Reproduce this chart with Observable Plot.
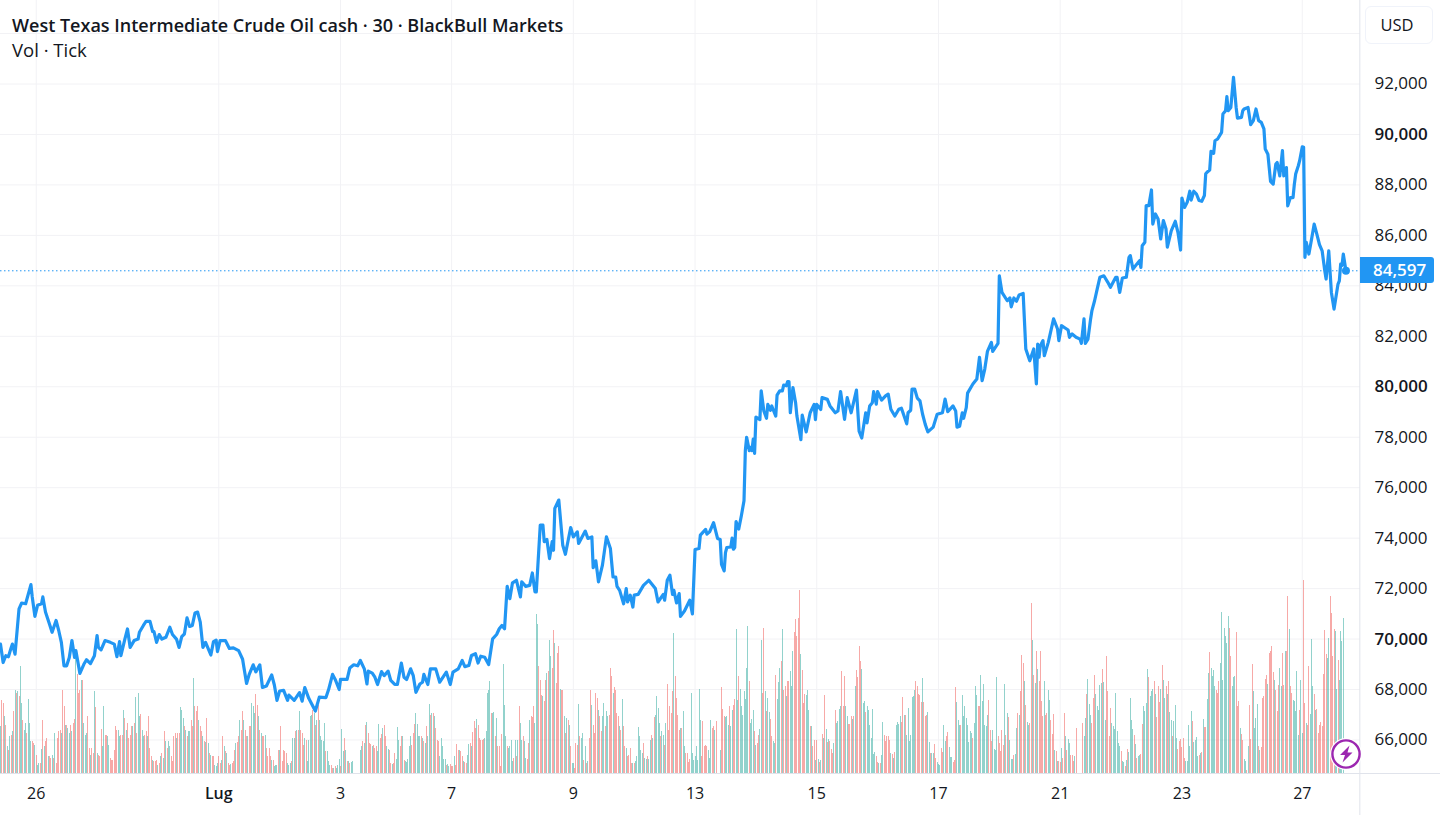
<!DOCTYPE html>
<html><head><meta charset="utf-8">
<script src="https://cdn.jsdelivr.net/npm/d3@7"></script>
<script src="https://cdn.jsdelivr.net/npm/@observablehq/plot@0.6"></script>
<style>
html,body{margin:0;padding:0;background:#fff;overflow:hidden}
#wrap{position:relative;width:1440px;height:815px;font-family:"Open Sans","Noto Sans",sans-serif;color:#131722}
#wrap svg{display:block}
.ov{position:absolute;white-space:nowrap}
#title{left:12px;top:13px;font-size:18px;font-weight:600;line-height:24px}
#sub{left:12px;top:38px;font-size:18.5px;line-height:24px}
#usd{left:1365px;top:6px;width:66px;height:36px;border:1px solid #f0f3fa;border-radius:6px;background:#fff;font-size:16.5px;line-height:36px;text-align:center;text-indent:-4px}
#tag{left:1360px;top:257px;width:61px;height:26px;padding-left:13px;background:#2196f3;color:#fff;font-size:17px;font-weight:600;line-height:26px;border-radius:0 3px 3px 0}
#bolt{left:1330px;top:738px;width:32px;height:32px}
</style></head><body>
<div id="wrap">
<div class="ov" id="title">West Texas Intermediate Crude Oil cash · 30 · BlackBull Markets</div>
<div class="ov" id="sub">Vol · Tick</div>
<div class="ov" id="usd">USD</div>
<div class="ov" id="tag">84,597</div>
<svg class="ov" id="bolt" viewBox="0 0 32 32"><circle cx="16" cy="16" r="16" fill="#fff"/><circle cx="16" cy="16" r="13.6" fill="#fff" stroke="#9c27b0" stroke-width="2.4"/><path d="M19.5 7.5 L10 17 L15 17 L12.5 24.5 L22.5 14.5 L17.5 14.5 Z" fill="#9c27b0"/></svg>
</div>
<script>
// Axis labels
const xTickIdx=[27,257,341,433,525,617,709,801,893,984];
const xTickLab=["26","3","7","9","13","15","17","21","23","27"];
const xMajorIdx=[165];
const xMajorLab=["Lug"];
const yTicks=[66000,68000,72000,74000,76000,78000,82000,84000,86000,88000,92000];
const yMajor=[70000,80000,90000];
const yGrid=[66000,68000,70000,72000,74000,76000,78000,80000,82000,84000,86000,88000,90000,92000,94000];
const lastPrice=84597;
// Price vertices: [bar index, price in hundreds]
const priceA=[[0,698],[2,690.7],[4,693.4],[6,693],[8,696.5],[9,698],[11,694],[13,706],[14,712],[16,714.3],[19,714],[23,721.6],[24,716.7],[26,709],[28,713.4],[31,714],[32,716.7],[34,710.7],[37,706],[39,702.7],[42,707.4],[44,703.4],[46,698.7],[48,689.4],[50,689.4],[52,692.7],[54,699.4],[56,692.7],[57,695.4],[60,686.4],[63,690],[65,691.8],[68,690.3],[71,693.4],[73,701.4],[74,696.7],[76,695.7],[79,699.4],[83,698.7],[86,698],[88,693],[90,699],[91,693.4],[94,700],[96,704],[98,696.7],[101,699.4],[104,700],[105,702.7],[108,705.4],[110,707],[113,707],[115,703],[116,703],[118,698.7],[120,701.8],[122,700],[125,700.7],[128,704.7],[130,701.8],[133,700],[135,696.7],[137,701],[139,702],[141,708.4],[143,705],[145,705.4],[147,710.3],[149,710.7],[151,706.7],[153,696.7],[155,698.7],[159,693.7],[161,699],[163,699.6],[164,695],[166,699.4],[170,699.4],[173,696.3],[176,696.5],[180,695.4],[183,692],[184,688.7],[186,682.4],[188,686],[191,689.8],[193,687],[196,689.8],[198,680.8],[201,681.4],[205,685.8],[207,681.8],[209,675.7],[211,679.4],[214,679.7],[217,675.7],[218,677.8],[222,675.7],[226,678.8],[228,675.4],[230,680.8],[233,676.5],[238,671.5],[241,677],[246,676.8],[248,680],[251,686],[253,684],[256,680],[257,684],[262,684],[264,688.5],[267,689.8],[270,689.4],[272,691.5]];
const priceB=[[275,688.2],[277,682.2],[278,687.3],[281,686.5],[283,684.9],[285,682],[288,687.1],[290,685.5],[293,687.3],[295,683.6],[298,682],[300,682],[303,690.5],[305,684.9],[307,684],[310,688.2],[312,685.5],[314,678.9],[317,682.2],[319,682.9],[320,686],[323,682],[325,688.2],[329,688.2],[332,682.9],[337,686.9],[340,682],[342,686.9],[346,688.2],[349,691.5],[351,689.1],[354,689.5],[356,693.5],[359,694.2],[361,690.5],[363,693.2],[366,692.8],[369,689.9],[372,700.1],[375,701.8],[377,704.1],[379,705.4],[381,704.1],[383,720.9],[385,716],[387,722.3],[390,723.3],[393,716.7],[394,722.7],[397,720.9],[400,721.3],[402,726.2],[404,718.7],[405,718.7],[408,745.2],[410,745.2],[411,738.6],[413,739.5],[415,731.9],[417,738.6],[418,735.2],[419,751.8],[422,755.1],[425,737.2],[427,733.6],[431,744.2],[433,740.5],[436,742.5],[437,737.9],[439,739.9],[442,742.8],[444,739.9],[447,740.5],[448,728.3],[450,731],[452,722.7],[455,729.3],[458,740.5],[461,735.9],[463,724.6],[465,724.6],[466,720.9],[468,719.3],[471,714],[473,720],[474,714.7],[476,717.4],[478,712.7],[479,717.4],[482,717.7],[486,721.3],[490,723.3],[495,720],[497,714.7],[501,717.7],[502,715.4],[504,723.3],[506,725.3],[508,717.7],[509,719.3],[511,714.3],[513,718],[514,709],[517,711.1],[521,715.4],[523,710],[525,735.5],[528,735.9],[529,741.2],[533,743.5],[534,741.6],[536,742.5],[539,746.1],[542,739.9],[544,739.5]];
const priceC=[[545,729.6],[547,727],[548,734.3],[549,736.3],[552,736.5],[553,740],[554,735.6],[555,736.3],[556,746.6],[558,743.6],[560,748.9],[562,754.8],[563,774.7],[564,780],[566,774.7],[567,776],[568,774.7],[569,779.3],[570,773.6],[571,788],[574,787],[575,798.4],[577,790.4],[579,787.5],[580,793],[582,790.7],[583,792.4],[584,791],[586,788.4],[587,796.7],[589,798.4],[591,798.4],[592,800.7],[594,800.4],[595,802.1],[596,802.1],[597,789.7],[599,799.7],[601,793.7],[602,788.4],[605,779],[606,788.8],[609,782.1],[612,789.7],[615,793],[616,787],[617,793],[620,791],[621,795.7],[625,795],[627,792.4],[631,789.7],[633,790.4],[635,798.1],[638,787.1],[640,795.7],[643,789.7],[647,798.7],[649,782.4],[651,779.7],[654,789.7],[655,785.7],[657,792.4],[659,793.7],[660,798.1],[662,793.1],[663,798.1],[666,794.7],[669,796.4],[671,797.1],[673,791.1],[676,788.4],[679,791.1],[681,791.5],[683,788.4],[685,785.3],[686,789.7],[688,790.7],[689,799.1],[691,799.1],[693,795.5],[695,794.4],[697,789.1],[699,785.1],[701,782.1],[705,784],[708,789.1],[712,789.7],[714,795.1],[716,790.1],[720,792.4],[722,790.4],[723,784],[725,784.4],[727,789.7],[728,787.5],[730,791.7],[731,797.5],[735,801.1],[738,803.1]];
const priceD=[[740,811.7],[742,802.4],[744,807],[746,814],[749,817.6],[750,814],[754,817.2],[755,844],[757,837.4],[761,834.1],[763,835.2],[764,831.7],[766,835.2],[768,833.9],[770,836.4],[773,837],[775,815],[778,810.3],[781,815],[783,801.1],[784,816.9],[785,811.7],[786,816.3],[788,818.3],[789,812.3],[792,817.6],[796,826.9],[799,822.9],[800,818.3],[802,824.2],[805,823.2],[807,822.5],[808,819.6],[810,820.9],[813,819.6],[816,818.9],[817,817.2],[819,826.9],[820,817.2],[822,818.9],[824,826.9],[825,830.2],[827,834.1],[829,838.8],[831,843.4],[834,844],[837,841.4],[839,839.4],[843,843.4],[844,843.4],[846,837.4],[848,843.1],[851,843.4],[853,851.3],[854,852],[856,846.7],[861,850],[862,847.3],[863,855.9],[865,857.3],[866,871.8],[868,871.8],[870,878],[871,864.5],[873,868.5],[875,866.5],[877,858.6],[879,865.9],[881,862.5],[882,855.3],[885,861.9],[888,865.6],[890,861.2],[892,854.2],[893,874.8],[895,871.1],[897,873.1],[899,877.5],[900,874],[902,877.5],[904,876.4],[906,873.8],[908,873.5],[910,875.8],[911,884.4],[912,885]];
const priceE=[[914,885.9],[915,893.3],[917,892.5],[918,897.5],[920,898.2],[923,900.8],[924,908.1],[926,909.4],[927,915],[928,909.4],[930,910.7],[932,922.6],[934,910.7],[935,906.5],[938,906.8],[939,909.4],[940,910.1],[943,910.7],[945,903.9],[947,905.5],[949,910.1],[951,905.5],[953,904.8],[955,902.2],[956,894.2],[958,892.2],[960,881.4],[962,880.3],[964,888.3],[965,888.9],[967,883.6],[969,893.6],[970,883.6],[972,886.9],[973,871.7],[975,875],[977,875],[978,880.3],[979,884.3],[981,887.6],[982,889.6],[984,895.1],[985,894.9],[986,851.3],[987,857.2],[989,852.6],[991,858.5],[993,864.5],[995,860.5],[997,856.3],[999,853.9],[1001,846],[1002,842.7],[1004,853.9],[1006,837.4],[1008,830.8],[1011,840.7],[1012,842],[1013,848.6],[1014,848],[1015,852.6],[1017,845.97]];
// Tick volume per bar; negative = down bar (red)
const volA=[47,-73,-70,57,-48,27,-23,37,-38,42,-62,83,-80,82,-77,107,70,-53,43,50,-40,74,50,32,-32,-30,28,-18,8,10,-10,24,-53,27,-32,-35,17,-17,-15,18,-15,40,-10,-35,-42,-43,40,-83,-67,48,-48,45,40,-48,42,-50,-54,115,-99,-80,-83,93,-93,50,38,40,-57,-25,18,-25,-20,82,-66,20,-18,-17,-44,27,67,-38,-38,37,28,-15,-13,-13,-23,-47,-43,43,37,-38,-38,63,-55,43,-50,-35,-38,-47,47,-50,76,-40,80,57,-59,43,37,-38,-42,37,-57,-25,-17,13,-12,-12,-13,8,-10,17,-20,15,-42,32,-25,32,27,-17,-12,-37,-40,35,-40,-40,66,63,55,-47,43,-37,42,42,-53,-47,95,-67,-62,-67,53,-47,-42,37,-32,31,-55,30,-20,18,-17,-17,8,7,10,-17,-10,13,-37,27,-22,20,-10,-8,9,-10,-12,-23,30,-31,-37,53,-43,-62,53,-43,-37,37,-47,-47,70,67,60,-79,-68,57,-43,40,-37,-37,38,-25,-17,-25,-17,13,-13,7,8,8,-23,23,-47,-12,-23,-22,-20,10,8,10,-12,35,35,-42,43,-43,62,-43,-40,-28,35,-33,12,33,57,58,-63,60,-48,53,-68,53,37,33,32,50,-22,22,12,8,-8,-5,5,-7,5,8,14,-7,44,22,-35,23,-12,12,-10,11,12];
const volB=[23,27,-32,30,-48,51,-40,-30,-29,27,-28,-25,-27,22,49,-35,-39,45,-48,-37,27,24,-23,-10,9,-10,-20,14,46,33,-27,-37,37,-13,12,11,14,27,37,-28,-40,-49,60,49,37,37,-37,35,-32,30,-47,37,69,-58,60,-60,57,-45,-33,-32,17,35,27,14,14,-8,9,7,-9,-7,-7,17,-8,-29,-23,23,-22,-17,12,-11,-10,18,29,-30,27,-41,-52,-45,54,-48,-35,-33,-33,-34,35,42,80,83,92,-60,60,61,-37,55,-27,-27,-7,-39,109,68,37,-27,25,27,33,12,-15,33,-17,33,-67,50,33,-37,32,15,-14,-30,53,-57,-56,-67,50,159,149,-107,-93,-78,77,-72,-93,100,-102,133,117,-105,-143,130,-90,-120,-127,84,-83,-83,57,-40,55,-53,48,-27,10,10,-5,-30,-28,69,-37,35,40,-13,27,-10,12,-35,-83,68,-48,-40,-80,-75,63,-57,-42,57,70,-47,62,57,-58,-105,-97,80,-86,-83,-60,-57,47,-43,74,-47,-27,25,-17,-18,-25,-10,10,-10,12,17,46,37,23,20,-30,15,14,-17,14,33,-38,35,-56,58,77,65,50,-37,42,38,-28,50,-89,-43,-67,-60,-82,140,-97,-75,-58,-43,45,-45,62,27,-20,-20,-11,-14,80,20,13,17,27,13,84,53,-17,-52,-27,-28,-27,23,15,53,-45,-47,43,-52];
const volC=[23,-86,-64,-57,56,57,48,-67,47,63,-68,-74,144,73,-97,84,67,58,82,74,105,147,-92,50,54,63,-42,28,-30,-38,44,133,-80,-145,82,-62,75,61,-54,-37,32,30,-98,74,91,105,-112,144,-83,-87,77,-92,-92,102,87,122,-141,-154,-137,-155,-183,119,-103,-70,-79,78,83,63,-47,47,-27,-33,13,-33,14,-11,13,-39,35,-78,44,-31,34,-32,-24,-20,30,-63,50,52,64,67,-102,-67,-97,67,57,-49,-49,-57,54,-57,87,-103,-96,-127,-112,104,70,72,-61,67,63,48,35,64,19,21,-17,-11,10,-10,18,51,-38,-32,-37,-37,-33,20,-19,15,-21,48,51,49,57,-51,-76,58,-58,38,65,32,38,76,77,83,-92,-87,-79,-78,-71,95,-71,-57,-58,61,31,-20,20,20,-29,-15,11,9,8,-25,-21,48,32,-37,-41,26,16,16,-11,-13,-86,71,53,48,-48,78,57,67,55,48,31,42,40,-35,50,87,78,-67,-67,98,72,89,48,47,58,-73,-43,-32,43,24,23,96,-37,-30,-22,-43,-28,89,-38,60,-56,33,14,14,-18,19,45,-60,58,-82,-118,-110,92,-68,51,48,-50,-170,133,-98,90,-122,104,-92,-122,-72,-57,92,-58,-60,83,73,-53,-39,-59,23,-22,12,-12,-11,25,-15,-60,37,-23,34,30,-18,-18,-12,17,-45];
const volD=[-50,37,55,-79,94,69,58,-50,-75,-98,79,67,63,88,90,-104,91,53,-117,-82,-37,-65,50,47,44,80,42,30,27,-22,12,11,-7,13,-24,21,75,53,44,-38,29,-15,17,18,-19,-49,67,62,70,104,-96,77,82,84,-92,79,-56,-87,-71,84,-108,93,75,-87,79,-92,61,53,-37,52,68,35,-24,-32,-34,-26,-35,-15,12,12,48,27,62,-52,31,33,36,17,-18,20,-21,54,-46,-46,74,100,-121,105,97,103,87,-83,-80,-92,110,161,93,145,137,130,157,-145,-117,87,96,97,-141,-67,-72,45,-39,-33,14,12,-3,27,-68,-34,-109,82,45,55,69,-27,23,-26,-75,-77,-94,-98,89,-120,-122,-127,-101,93,-83,-62,-88,105,87,-120,-88,122,-122,-177,144,-87,-80,73,72,62,102,38,-63,93,40,-193,-70,50,-48,-107,59,134,87,-79,63,-64,-40,-48,-51,-47,-99,-143,-119,115,135,-177,-160,-117,-144,142,84,-113,93,142,132,155];

const price=[...priceA,...priceB,...priceC,...priceD,...priceE].map(([i,p])=>({i,price:p*100}));
const volStarts=[[volA,0],[volB,272],[volC,544],[volD,1016-volD.length]];
const bars=volStarts.flatMap(([arr,s])=>arr.map((v,k)=>({i:s+k,v:Math.abs(v),up:v>0})));

const xMax=1028, yLow=64672, yHigh=95310, yBelow=63000, volToPrice=39.63;
const grid="#f2f2f5", border="#e0e3eb", ink="#131722", blue="#2196f3";
const fmt=d3.format(",d");

const chart=Plot.plot({
  width:1440,height:815,marginTop:0,marginRight:80,marginBottom:42,marginLeft:0,
  style:{background:"#fff",fontFamily:'"Open Sans","Noto Sans",sans-serif',color:ink,overflow:"visible"},
  x:{type:"linear",domain:[0,xMax],range:[0,1360]},
  y:{type:"linear",domain:[yLow,yHigh],range:[773,0]},
  marks:[
    Plot.ruleY(yGrid,{stroke:grid,strokeWidth:1}),
    Plot.ruleX([...xTickIdx,...xMajorIdx],{stroke:grid,strokeWidth:1}),
    Plot.ruleX(bars,{x:"i",y1:yLow,y2:d=>yLow+d.v*volToPrice,stroke:d=>d.up?"#26a69a":"#ef5350",strokeOpacity:0.5,strokeWidth:1,shapeRendering:"crispEdges"}),
    Plot.ruleY([lastPrice],{stroke:blue,strokeWidth:1,strokeDasharray:"1.5 2.5"}),
    Plot.line(price,{x:"i",y:"price",stroke:blue,strokeWidth:3.2,strokeLinejoin:"round",strokeLinecap:"round"}),
    Plot.dot(price.slice(-1),{x:"i",y:"price",r:4,fill:blue}),
    Plot.ruleX([xMax-0.5],{y1:yLow,y2:yHigh,stroke:border}),
    Plot.ruleX([xMax-0.5],{y1:yBelow,y2:yLow,stroke:border}),
    Plot.ruleY([yLow],{x1:0,x2:xMax*1440/1360,stroke:border}),
    Plot.axisY({anchor:"right",ticks:yTicks,tickFormat:fmt,tickSize:0,tickPadding:14,fontSize:17,label:null}),
    Plot.axisY({anchor:"right",ticks:yMajor,tickFormat:fmt,tickSize:0,tickPadding:14,fontSize:17,fontWeight:600,label:null}),
    Plot.axisX({ticks:xTickIdx,tickFormat:d=>xTickLab[xTickIdx.indexOf(d)],tickSize:0,tickPadding:14,fontSize:16,label:null}),
    Plot.axisX({ticks:xMajorIdx,tickFormat:d=>xMajorLab[xMajorIdx.indexOf(d)],tickSize:0,tickPadding:14,fontSize:16,fontWeight:600,label:null})
  ]
});
const wrap=document.getElementById("wrap");
wrap.insertBefore(chart,wrap.firstChild);
chart.style.position="absolute";chart.style.left="0";chart.style.top="0";
</script>
</body></html>
